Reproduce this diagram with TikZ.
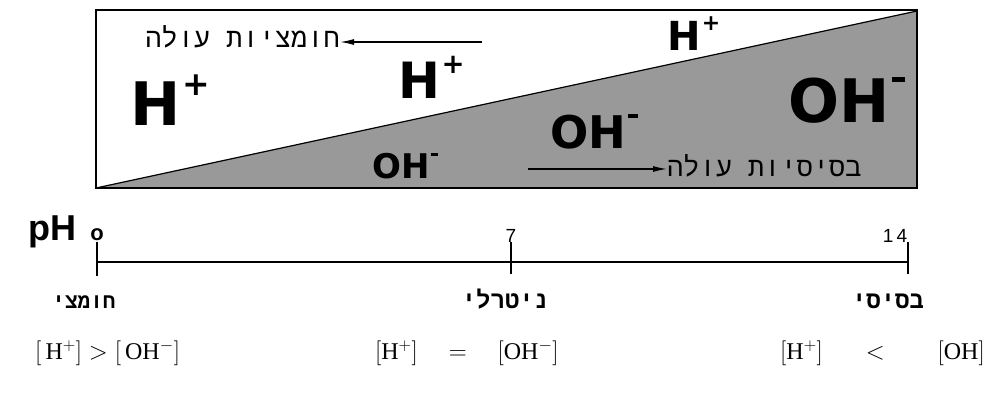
\documentclass[tikz,border=0pt]{standalone}
\usepackage{fontspec}
\usepackage{graphicx}
\usetikzlibrary{arrows.meta}
\TeXXeTstate=1
\setmainfont{Liberation Serif}
\newfontfamily\hebfont[Script=Hebrew]{Liberation Mono}
\newfontfamily\ionfont{DejaVu Sans}
\newfontfamily\axfont{Liberation Sans}
\newcommand\ionplus{\hspace{0.03em}\raisebox{0.5em}{\scalebox{0.55}{\textbf{+}}}}
\newcommand\ionminus{\hspace{0.04em}\rule[0.66em]{0.22em}{0.085em}}
\newcommand\ionsize[1]{\ionfont\bfseries\fontsize{#1}{#1}\selectfont}
\tikzset{
  ion/.style={inner sep=0pt, anchor=base west},
  heb/.style={inner sep=0pt, font=\hebfont\fontsize{27}{27}\selectfont},
  hebb/.style={inner sep=0pt, font=\hebfont\bfseries\fontsize{24}{24}\selectfont},
  arr/.style={-{Latex[length=14pt,width=6pt]}, line width=1.3pt},
  axis/.style={line width=1.2pt},
  num/.style={inner sep=0pt, font=\axfont\fontsize{19}{19}\selectfont},
  formula/.style={inner sep=0pt, anchor=west, font=\fontsize{24}{24}\selectfont}
}
\begin{document}
\begin{tikzpicture}[x=1pt,y=-1pt]
\useasboundingbox (0,0) rectangle (1008,396);
% box and shaded triangle
\coordinate (bl) at (96,188);
\coordinate (tr) at (917,11);
\coordinate (br) at (917,188);
\fill[black!40] (bl) -- (tr) -- (br) -- cycle;
\draw[line width=1.2pt] (96,10) rectangle (917,188);
\draw[line width=1.2pt] (bl) -- (tr);
% ions
\node[ion, font=\ionsize{60}] (hl) at (130,125) {H\ionplus};
\node[ion, font=\ionsize{50}] (hm) at (398,98) {H\ionplus};
\node[ion, font=\ionsize{40}] (ht) at (667,50) {H\ionplus};
\node[ion, font=\ionsize{34}] (os) at (372,178) {OH\ionminus};
\node[ion, font=\ionsize{45}] (om) at (550,148) {OH\ionminus};
\node[ion, font=\ionsize{60}] (or) at (788,122) {OH\ionminus};
% arrows with Hebrew text
\node[heb, anchor=base east] (acid) at (340,48) {\beginR חומציות עולה\endR};
\coordinate (a1) at (482,42);
\draw[arr] (a1) -- (acid.east |- a1);
\node[heb, anchor=base west] (base) at (667,176) {\beginR בסיסיות עולה\endR};
\coordinate (b1) at (528,169);
\draw[arr] (b1) -- (base.west |- b1);
% pH axis
\node[inner sep=0pt, anchor=base west, font=\axfont\bfseries\fontsize{36}{36}\selectfont] (ph) at (28,240) {pH};
\node[inner sep=0pt, anchor=base, font=\axfont\bfseries\fontsize{22}{22}\selectfont] (n0) at (97,240) {o};
\coordinate (t0) at (97,262);
\coordinate (t7) at (511,262);
\coordinate (t14) at (908,262);
\draw[axis] (t0) -- (t14);
\draw[axis] ([yshift=-14pt]t0) -- ([yshift=20pt]t0);
\draw[axis] ([yshift=-12pt]t7) -- ([yshift=20pt]t7);
\draw[axis] ([yshift=-12pt]t14) -- ([yshift=20pt]t14);
\node[num, anchor=base] (n7) at (511,242) {7};
\node[num, anchor=base] (n14) at (895,242) {1\,4};
\node[hebb, anchor=base, font=\hebfont\bfseries\fontsize{21}{21}\selectfont] (l0) at (84,308) {\beginR חומצי\endR};
\node[hebb, anchor=base] (l7) at (505,308) {\beginR ניטרלי\endR};
\node[hebb, anchor=base] (l14) at (888,308) {\beginR בסיסי\endR};
% formulas
\node[formula] (f1) at (35,353) {$\bigl[\,\mathrm{H}^{+}\bigr] > \bigl[\,\mathrm{OH}^{-}\bigr]$};
\node[formula] (f2) at (375,353) {$\bigl[\mathrm{H}^{+}\bigr]\quad=\quad\bigl[\mathrm{OH}^{-}\bigr]$};
\node[formula] (f3) at (780,353) {$\bigl[\mathrm{H}^{+}\bigr]\hspace{36pt}<\hspace{46pt}\bigl[\mathrm{OH}\bigr]$};
\end{tikzpicture}
\end{document}
